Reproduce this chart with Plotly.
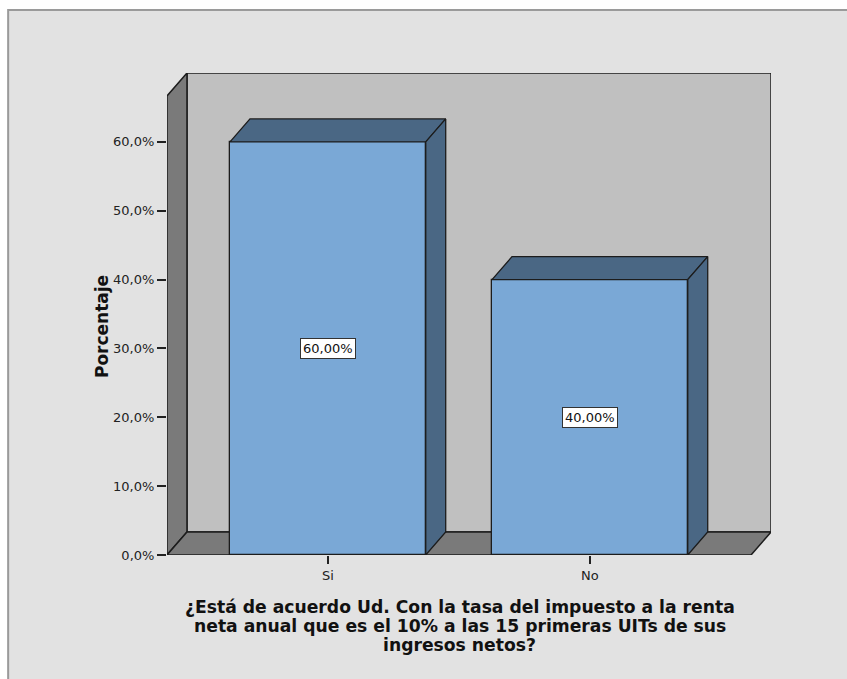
import plotly.graph_objects as go

# Survey answers and their share of respondents (%)
categories = ["Si", "No"]
percentages = [60.0, 40.0]

# Value axis ticks (%)
tick_values = [0, 10, 20, 30, 40, 50, 60]
tick_labels = ["0,0%", "10,0%", "20,0%", "30,0%", "40,0%", "50,0%", "60,0%"]

axis_title_y = "Porcentaje"
axis_title_x_lines = [
    "¿Está de acuerdo Ud. Con la tasa del impuesto a la renta",
    "neta anual que es el 10% a las 15 primeras UITs de sus",
    "ingresos netos?",
]

# Pseudo-3D frame settings (axis units)
X_MIN, X_MAX = -0.614, 1.615
Y_TOP = 66.67
DX, DY = 0.0762, 3.34
BAR_W = 0.747

EDGE = "#1c1c1c"
WALL_BACK = "#c0c0c0"
WALL_SIDE = "#7a7a7a"
BAR_FRONT = "#7aa8d6"
BAR_DARK = "#4a6784"
BG = "#e2e2e2"


def path(xs, ys):
    pts = [f"{x},{y}" for x, y in zip(xs, ys)]
    return "M " + " L ".join(pts) + " Z"


shapes = [
    # outer panel
    dict(type="rect", xref="paper", yref="paper", x0=-0.263, x1=1.3,
         y0=-0.4, y1=1.1307, fillcolor=BG, line=dict(color="#9a9a9a", width=2),
         layer="below"),
    # back wall
    dict(type="path", xref="x", yref="y", layer="below",
         path=path([X_MIN + DX, X_MAX + DX, X_MAX + DX, X_MIN + DX],
                   [DY, DY, Y_TOP + DY, Y_TOP + DY]),
         fillcolor=WALL_BACK, line=dict(color=EDGE, width=1.5)),
    # left wall
    dict(type="path", xref="x", yref="y", layer="below",
         path=path([X_MIN, X_MIN, X_MIN + DX, X_MIN + DX],
                   [0, Y_TOP, Y_TOP + DY, DY]),
         fillcolor=WALL_SIDE, line=dict(color=EDGE, width=1.5)),
    # floor
    dict(type="path", xref="x", yref="y", layer="below",
         path=path([X_MIN, X_MAX, X_MAX + DX, X_MIN + DX],
                   [0, 0, DY, DY]),
         fillcolor=WALL_SIDE, line=dict(color=EDGE, width=1.5)),
]

fig = go.Figure()

xpos = list(range(len(categories)))

# front faces of the bars
fig.add_trace(go.Bar(
    x=xpos, y=percentages, width=BAR_W,
    marker=dict(color=BAR_FRONT, line=dict(color=EDGE, width=1.3)),
    hoverinfo="skip", showlegend=False,
))

# top and side faces of the bars
for xc, v in zip(xpos, percentages):
    xl, xr = xc - BAR_W / 2, xc + BAR_W / 2
    fig.add_trace(go.Scatter(
        x=[xl, xr, xr + DX, xl + DX, xl], y=[v, v, v + DY, v + DY, v],
        mode="lines", fill="toself", fillcolor=BAR_DARK,
        line=dict(color=EDGE, width=1.3), hoverinfo="skip", showlegend=False,
    ))
    fig.add_trace(go.Scatter(
        x=[xr, xr + DX, xr + DX, xr, xr], y=[0, DY, v + DY, v, 0],
        mode="lines", fill="toself", fillcolor=BAR_DARK,
        line=dict(color=EDGE, width=1.3), hoverinfo="skip", showlegend=False,
    ))

annotations = []
# value labels in the middle of each bar
for xc, v in zip(xpos, percentages):
    annotations.append(dict(
        x=xc, y=v / 2, xref="x", yref="y", showarrow=False,
        text=f"{v:.2f}".replace(".", ",") + "%",
        font=dict(family="DejaVu Sans", size=13, color="#111"),
        bgcolor="white", bordercolor="#333", borderwidth=1, borderpad=2,
    ))

# axis titles
annotations.append(dict(
    x=-0.1275, y=0.475, xref="paper", yref="paper", showarrow=False,
    text=axis_title_y, textangle=-90,
    font=dict(family="DejaVu Sans", size=17, color="#111", weight="bold"),
))
for i, line in enumerate(axis_title_x_lines):
    annotations.append(dict(
        x=0.4843, y=-0.1079 - 0.0394 * i, xref="paper", yref="paper",
        xanchor="center", yanchor="middle", showarrow=False, text=line,
        font=dict(family="DejaVu Sans", size=17.2, color="#111", weight="bold"),
    ))

fig.update_layout(
    width=847, height=679, autosize=False,
    margin=dict(l=167, r=76, t=73, b=124),
    paper_bgcolor="white", plot_bgcolor="rgba(0,0,0,0)",
    shapes=shapes, annotations=annotations,
    bargap=0, showlegend=False,
    xaxis=dict(
        range=[X_MIN, X_MAX + DX], tickvals=xpos, ticktext=categories,
        showgrid=False, zeroline=False, showline=False,
        ticks="outside", ticklen=8, tickwidth=1.5, tickcolor="#222",
        tickfont=dict(family="DejaVu Sans", size=13, color="#222"),
        fixedrange=True,
    ),
    yaxis=dict(
        range=[0, Y_TOP + DY], tickvals=tick_values, ticktext=tick_labels,
        showgrid=False, zeroline=False, showline=False,
        ticks="outside", ticklen=9, tickwidth=1.5, tickcolor="#222",
        tickfont=dict(family="DejaVu Sans", size=13, color="#222"),
        ticklabelstandoff=0,
        fixedrange=True,
    ),
)

fig.write_html("out.html")
